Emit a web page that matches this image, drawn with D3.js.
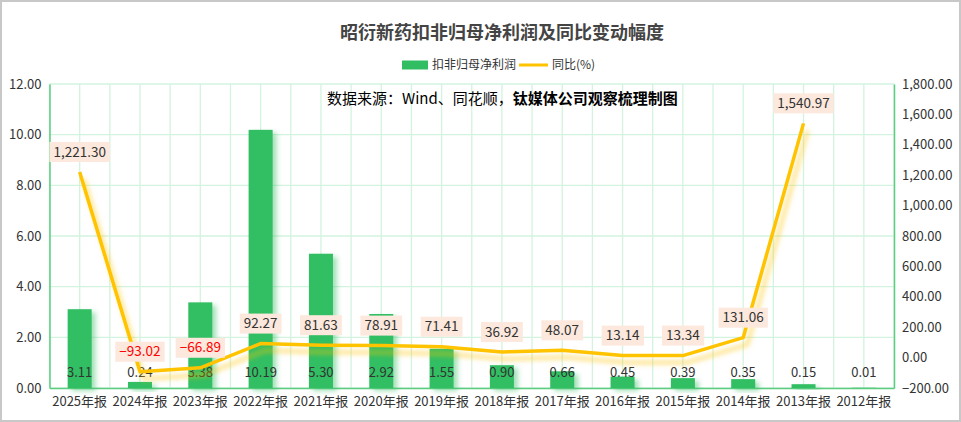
<!DOCTYPE html>
<html><head><meta charset="utf-8">
<script src="https://cdn.jsdelivr.net/npm/d3@7"></script>
<style>
html,body{margin:0;padding:0;background:#fff;}
svg{display:block;font-family:"Noto Sans CJK SC","Microsoft YaHei",sans-serif;}
</style></head>
<body>
<svg id="chart" width="961" height="422"></svg>
<script>
const categories = ["2025年报","2024年报","2023年报","2022年报","2021年报","2020年报","2019年报","2018年报","2017年报","2016年报","2015年报","2014年报","2013年报","2012年报"];
const profitValues = [3.11,0.24,3.38,10.19,5.30,2.92,1.55,0.90,0.66,0.45,0.39,0.35,0.15,0.01];
const yoyValues = [1221.30,-93.02,-66.89,92.27,81.63,78.91,71.41,36.92,48.07,13.14,13.34,131.06,1540.97,null];
const leftTicks = [0,2,4,6,8,10,12];
const rightTicks = [-200,0,200,400,600,800,1000,1200,1400,1600,1800];
const titleText = "昭衍新药扣非归母净利润及同比变动幅度";
const legendNames = ["扣非归母净利润","同比(%)"];
const sourceNormal = "数据来源：Wind、同花顺，";
const sourceBold = "钛媒体公司观察梳理制图";

const svg = d3.select("#chart");
const W = 961, H = 422;
const m = {left:49.5, right:894, top:84, bottom:388};
const barColor = "#31be62", lineColor = "#ffc300", textColor = "#333";
const gridColor = "#d3f3df", axisColor = "#5ccc80";

const defs = svg.append("defs");
const fb = defs.append("filter").attr("id","barShadow").attr("x","-50%").attr("y","-50%").attr("width","200%").attr("height","200%");
fb.append("feDropShadow").attr("dx",4).attr("dy",3).attr("stdDeviation",2.5).attr("flood-color","#31be62").attr("flood-opacity",0.45);
const fl = defs.append("filter").attr("id","lineShadow").attr("x","-50%").attr("y","-50%").attr("width","200%").attr("height","200%");
fl.append("feDropShadow").attr("dx",4).attr("dy",7).attr("stdDeviation",2.5).attr("flood-color","#ffc300").attr("flood-opacity",0.55);

// outer border
svg.append("rect").attr("x",1).attr("y",1).attr("width",W-2).attr("height",H-2)
  .attr("fill","#fff").attr("stroke","#c8c8c8").attr("stroke-width",2);

const x = d3.scaleBand().domain(categories).range([m.left,m.right]);
const yL = d3.scaleLinear().domain([0,12]).range([m.bottom,m.top]);
const yR = d3.scaleLinear().domain([-200,1800]).range([m.bottom,m.top]);

// grid
const grid = svg.append("g");
const bw = x.bandwidth();
for (let i=0;i<=categories.length*2;i++){
  const gx = m.left + i*bw/2;
  grid.append("line").attr("x1",gx).attr("x2",gx).attr("y1",m.top).attr("y2",m.bottom)
    .attr("stroke",gridColor).attr("stroke-width",1.3);
}
leftTicks.forEach(t=>{
  grid.append("line").attr("x1",m.left).attr("x2",m.right).attr("y1",yL(t)).attr("y2",yL(t))
    .attr("stroke",gridColor).attr("stroke-width",1.3);
});

// axes
const axL = svg.append("g").attr("transform",`translate(${m.left},0)`)
  .call(d3.axisLeft(yL).tickValues(leftTicks).tickFormat(d3.format(".2f")).tickSize(0).tickPadding(8));
const axR = svg.append("g").attr("transform",`translate(${m.right},0)`)
  .call(d3.axisRight(yR).tickValues(rightTicks).tickFormat(d3.format(",.2f")).tickSize(0).tickPadding(8));
const axB = svg.append("g").attr("transform",`translate(0,${m.bottom})`)
  .call(d3.axisBottom(x).tickSize(0).tickPadding(9));
[axL,axR,axB].forEach(a=>{
  a.select(".domain").attr("stroke",axisColor).attr("stroke-width",1.5);
  a.selectAll("text").attr("fill",textColor).attr("font-size",13).attr("font-family","'Noto Sans CJK SC',sans-serif");
});

// bars
svg.append("g").selectAll("rect").data(profitValues).join("rect")
  .attr("x",(d,i)=>x(categories[i])+bw/2-12)
  .attr("width",24)
  .attr("y",d=>yL(d))
  .attr("height",d=>yL(0)-yL(d))
  .attr("fill",barColor)
  .attr("filter","url(#barShadow)");

// bar labels (inside bottom)
svg.append("g").selectAll("text").data(profitValues).join("text")
  .attr("x",(d,i)=>x(categories[i])+bw/2)
  .attr("y",yL(0)-16)
  .attr("dy","0.35em")
  .attr("text-anchor","middle")
  .attr("font-size",13)
  .attr("fill",textColor)
  .text(d=>d3.format(".2f")(d));

// line
const pts = yoyValues.map((v,i)=>({v, cx:x(categories[i])+bw/2})).filter(p=>p.v!==null);
const lineGen = d3.line().x(p=>p.cx).y(p=>yR(p.v));
svg.append("path").datum(pts).attr("d",lineGen)
  .attr("fill","none").attr("stroke",lineColor).attr("stroke-width",3.5)
  .attr("stroke-linejoin","round").attr("filter","url(#lineShadow)");

// line labels
const lg = svg.append("g");
pts.forEach(p=>{
  const g = lg.append("g");
  const t = g.append("text").attr("x",p.cx).attr("y",yR(p.v)-20).attr("dy","0.35em")
    .attr("text-anchor","middle").attr("font-size",13.5)
    .attr("fill",p.v<0?"#ff0000":textColor)
    .text(d3.format(",.2f")(p.v));
  const bb = t.node().getBBox();
  g.insert("rect","text").attr("x",bb.x-4).attr("y",yR(p.v)-20-10).attr("width",bb.width+8).attr("height",20)
    .attr("fill","#fce8dc");
});

// title
svg.append("text").attr("x",502).attr("y",33).attr("dy","0.35em").attr("text-anchor","middle")
  .attr("font-size",18).attr("font-weight","bold").attr("fill","#444").text(titleText);

// legend
const leg = svg.append("g");
leg.append("rect").attr("x",402).attr("y",60.5).attr("width",26).attr("height",9).attr("fill",barColor);
leg.append("text").attr("x",432).attr("y",65).attr("dy","0.35em").attr("font-size",12).attr("fill",textColor).text(legendNames[0]);
leg.append("line").attr("x1",519).attr("x2",548).attr("y1",65).attr("y2",65).attr("stroke",lineColor).attr("stroke-width",3);
leg.append("text").attr("x",552).attr("y",65).attr("dy","0.35em").attr("font-size",12).attr("fill",textColor).text(legendNames[1]);

// source
const src = svg.append("text").attr("x",327).attr("y",99).attr("dy","0.35em").attr("font-size",15).attr("fill","#000");
src.append("tspan").text(sourceNormal);
src.append("tspan").attr("font-weight","bold").text(sourceBold);
</script>
</body></html>
